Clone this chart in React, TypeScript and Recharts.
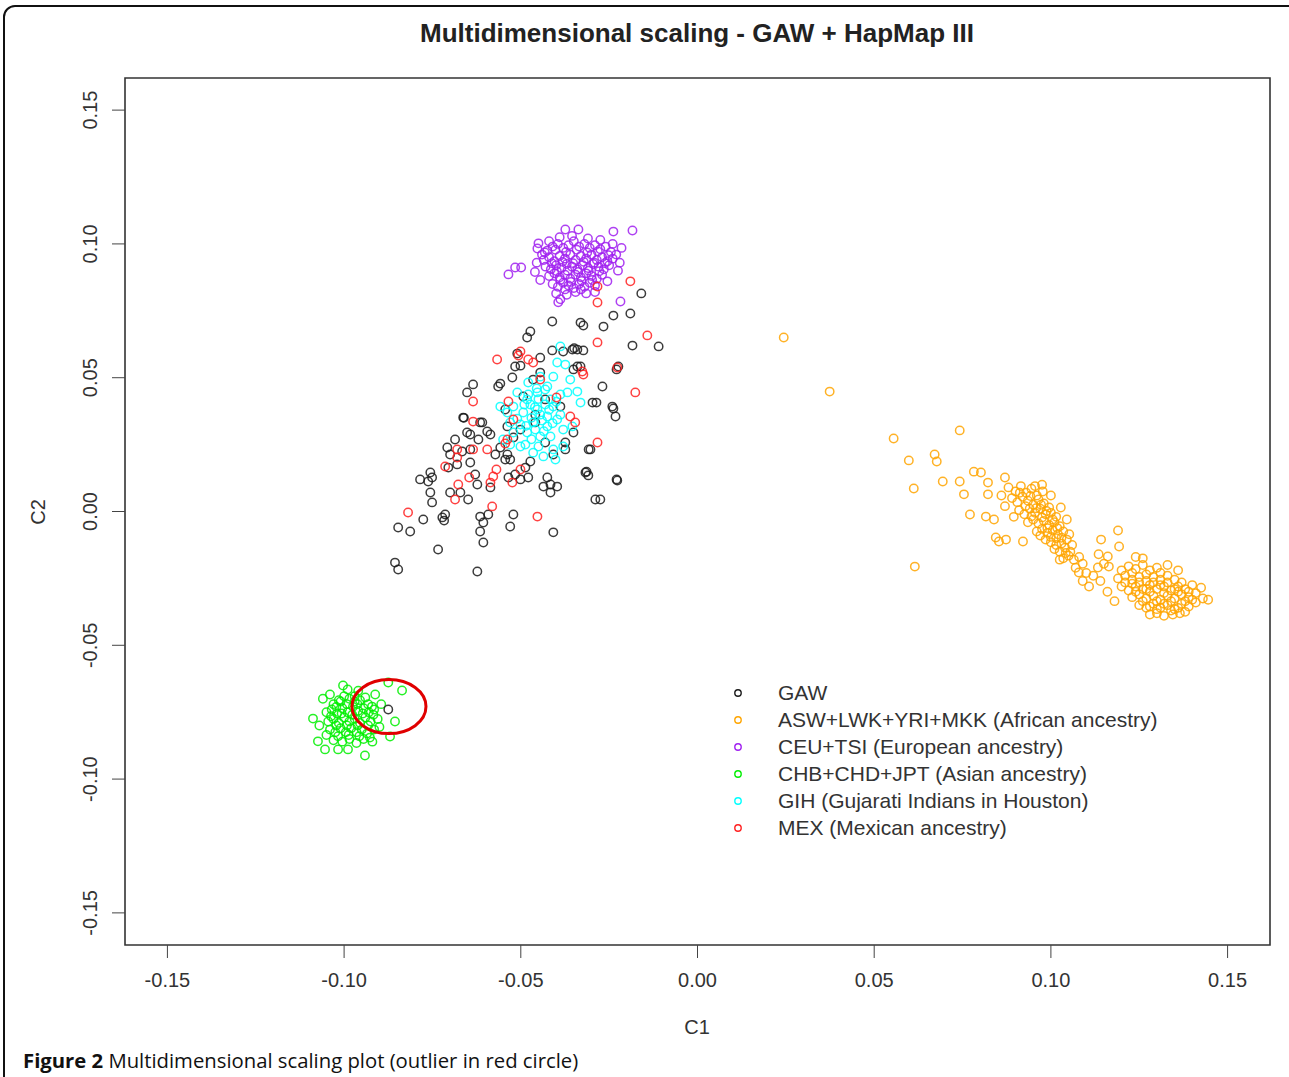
import React from 'react'
import {
  ScatterChart, Scatter, XAxis, YAxis, ReferenceArea, ReferenceDot, Legend, Label,
} from 'recharts'

// C1 / C2 coordinates
const gawPoints: [number, number][] = [
  [-0.0159, 0.0815], [-0.0190, 0.0740], [-0.0238, 0.0732], [-0.0266, 0.0691], [-0.0331, 0.0706],
  [-0.0323, 0.0695], [-0.0411, 0.0710], [-0.0473, 0.0673], [-0.0482, 0.0650], [-0.0184, 0.0620],
  [-0.0110, 0.0617], [-0.0229, 0.0531], [-0.0224, 0.0542], [-0.0269, 0.0467], [-0.0297, 0.0407],
  [-0.0241, 0.0392], [-0.0232, 0.0355], [-0.0351, 0.0531], [-0.0331, 0.0542], [-0.0340, 0.0605],
  [-0.0323, 0.0602], [-0.0354, 0.0605], [-0.0411, 0.0602], [-0.0445, 0.0575], [-0.0516, 0.0542],
  [-0.0564, 0.0467], [-0.0558, 0.0478], [-0.0493, 0.0430], [-0.0465, 0.0493], [-0.0374, 0.0258],
  [-0.0303, 0.0232], [-0.0351, 0.0295], [-0.0388, 0.0392], [-0.0445, 0.0519], [-0.0524, 0.0501],
  [-0.0380, 0.0598], [-0.0314, 0.0149], [-0.0309, 0.0135], [-0.0289, 0.0045], [-0.0227, 0.0116],
  [-0.0663, 0.0351], [-0.0652, 0.0295], [-0.0609, 0.0333], [-0.0595, 0.0299], [-0.0586, 0.0288],
  [-0.0708, 0.0239], [-0.0700, 0.0213], [-0.0666, 0.0224], [-0.0643, 0.0232], [-0.0705, 0.0164],
  [-0.0680, 0.0176], [-0.0643, 0.0183], [-0.0629, 0.0138], [-0.0756, 0.0146], [-0.0785, 0.0120],
  [-0.0762, 0.0112], [-0.0751, 0.0127], [-0.0756, 0.0071], [-0.0751, 0.0034], [-0.0700, 0.0071],
  [-0.0671, 0.0071], [-0.0649, 0.0045], [-0.0623, 0.0101], [-0.0586, 0.0090], [-0.0572, 0.0213],
  [-0.0538, 0.0213], [-0.0544, 0.0194], [-0.0535, 0.0127], [-0.0501, 0.0120], [-0.0479, 0.0127],
  [-0.0487, 0.0164], [-0.0425, 0.0127], [-0.0416, 0.0101], [-0.0436, 0.0093], [-0.0397, 0.0093],
  [-0.0416, 0.0071], [-0.0722, -0.0022], [-0.0714, -0.0011], [-0.0717, -0.0034], [-0.0776, -0.0030],
  [-0.0847, -0.0060], [-0.0813, -0.0075], [-0.0615, -0.0019], [-0.0592, -0.0011], [-0.0606, -0.0041],
  [-0.0615, -0.0075], [-0.0606, -0.0116], [-0.0521, -0.0011], [-0.0530, -0.0056], [-0.0408, -0.0078],
  [-0.0734, -0.0142], [-0.0856, -0.0191], [-0.0847, -0.0217], [-0.0623, -0.0224], [-0.0431, 0.0258],
  [-0.0408, 0.0213], [-0.0374, 0.0232], [-0.0459, 0.0333], [-0.0538, 0.0318], [-0.0521, 0.0277],
  [-0.0501, 0.0306], [-0.0459, 0.0362], [-0.0431, 0.0419], [-0.0544, 0.0381], [-0.0558, 0.0239],
  [-0.0530, 0.0194], [-0.0473, 0.0187], [-0.0516, 0.0138], [-0.0643, 0.0288], [-0.0620, 0.0269],
  [-0.0686, 0.0269], [-0.0635, 0.0475], [-0.0652, 0.0445], [-0.0510, 0.0590], [-0.0501, 0.0545],
  [-0.0340, 0.0542], [-0.0349, 0.0610], [-0.0661, 0.0350], [-0.0615, 0.0333], [-0.0286, 0.0407],
  [-0.0238, 0.0385], [-0.0308, 0.0232], [-0.0317, 0.0146], [-0.0229, 0.0120], [-0.0275, 0.0045],
  [-0.0875, -0.0740],
]

const africanPoints: [number, number][] = [
  [0.0244, 0.0650], [0.0374, 0.0448], [0.0555, 0.0273], [0.0742, 0.0303], [0.0598, 0.0191],
  [0.0671, 0.0213], [0.0677, 0.0187], [0.0612, 0.0086], [0.0694, 0.0112], [0.0742, 0.0112],
  [0.0754, 0.0064], [0.0771, -0.0011], [0.0615, -0.0206], [0.0782, 0.0149], [0.0802, 0.0146],
  [0.0822, 0.0108], [0.0870, 0.0127], [0.0816, -0.0019], [0.0839, -0.0030], [0.0844, -0.0097],
  [0.0853, -0.0112], [0.0873, -0.0105], [0.0921, -0.0112], [0.0977, 0.0075], [0.1028, 0.0015],
  [0.1190, -0.0071], [0.1193, -0.0131], [0.1161, -0.0168], [0.1108, -0.0280], [0.1079, -0.0228],
  [0.1142, -0.0105], [0.1133, -0.0209], [0.1164, -0.0206], [0.0822, 0.0064],
  [0.0880, 0.0090], [0.0900, 0.0075], [0.0915, 0.0095], [0.0930, 0.0070], [0.0945, 0.0085],
  [0.0960, 0.0060], [0.0890, 0.0050], [0.0905, 0.0035], [0.0920, 0.0055], [0.0935, 0.0040],
  [0.0950, 0.0025], [0.0965, 0.0045], [0.0980, 0.0030], [0.0995, 0.0015], [0.0910, 0.0005],
  [0.0925, -0.0010], [0.0940, 0.0010], [0.0955, -0.0005], [0.0970, 0.0010], [0.0985, -0.0010],
  [0.1000, -0.0005], [0.1015, -0.0020], [0.0935, -0.0040], [0.0950, -0.0030], [0.0965, -0.0045],
  [0.0980, -0.0035], [0.0995, -0.0050], [0.1010, -0.0040], [0.1025, -0.0055], [0.0960, -0.0075],
  [0.0975, -0.0065], [0.0990, -0.0080], [0.1005, -0.0070], [0.1020, -0.0085], [0.1035, -0.0075],
  [0.0985, -0.0105], [0.1000, -0.0115], [0.1015, -0.0100], [0.1030, -0.0120], [0.1045, -0.0105],
  [0.1010, -0.0140], [0.1025, -0.0150], [0.1040, -0.0135], [0.1055, -0.0150], [0.1035, -0.0175],
  [0.1050, -0.0165], [0.1065, -0.0180], [0.1080, -0.0170], [0.0870, 0.0020], [0.0860, 0.0060],
  [0.0895, -0.0020], [0.1070, -0.0210], [0.1090, -0.0195], [0.1100, -0.0230], [0.0975, 0.0100],
  [0.1000, 0.0060], [0.1045, -0.0030],
  [0.0912, 0.0070], [0.0942, 0.0058], [0.0972, 0.0025], [0.0928, 0.0020], [0.0958, 0.0012],
  [0.0988, 0.0002], [0.0945, -0.0018], [0.0975, -0.0022], [0.1005, -0.0030], [0.0990, -0.0062],
  [0.1018, -0.0062], [0.1000, -0.0095], [0.1030, -0.0098], [0.1015, -0.0125], [0.1042, -0.0155],
  [0.1060, -0.0125], [0.1052, -0.0085], [0.0970, -0.0090], [0.1025, -0.0180], [0.0955, 0.0095],
  [0.1200, -0.0220], [0.1220, -0.0205], [0.1240, -0.0215], [0.1260, -0.0200], [0.1280, -0.0220],
  [0.1300, -0.0210], [0.1190, -0.0250], [0.1210, -0.0240], [0.1230, -0.0255], [0.1250, -0.0245],
  [0.1270, -0.0260], [0.1290, -0.0245], [0.1310, -0.0255], [0.1330, -0.0240], [0.1350, -0.0255],
  [0.1200, -0.0280], [0.1220, -0.0295], [0.1240, -0.0280], [0.1260, -0.0290], [0.1280, -0.0275],
  [0.1300, -0.0290], [0.1320, -0.0280], [0.1340, -0.0295], [0.1360, -0.0280], [0.1380, -0.0290],
  [0.1400, -0.0275], [0.1230, -0.0320], [0.1250, -0.0310], [0.1270, -0.0325], [0.1290, -0.0315],
  [0.1310, -0.0330], [0.1330, -0.0315], [0.1350, -0.0325], [0.1370, -0.0310], [0.1390, -0.0320],
  [0.1410, -0.0305], [0.1430, -0.0325], [0.1250, -0.0350], [0.1270, -0.0360], [0.1290, -0.0345],
  [0.1310, -0.0360], [0.1330, -0.0350], [0.1350, -0.0365], [0.1370, -0.0345], [0.1390, -0.0355],
  [0.1410, -0.0340], [0.1280, -0.0385], [0.1300, -0.0380], [0.1320, -0.0390], [0.1345, -0.0385],
  [0.1365, -0.0380], [0.1180, -0.0335], [0.1160, -0.0300], [0.1445, -0.0330], [0.1425, -0.0285],
  [0.1360, -0.0220], [0.1330, -0.0200], [0.1260, -0.0175], [0.1240, -0.0170], [0.1120, -0.0240],
  [0.1140, -0.0260], [0.1090, -0.0260], [0.1150, -0.0195], [0.1135, -0.0160],
  [0.1210, -0.0265], [0.1230, -0.0270], [0.1250, -0.0265], [0.1270, -0.0290], [0.1290, -0.0265],
  [0.1310, -0.0275], [0.1330, -0.0265], [0.1350, -0.0290], [0.1370, -0.0265], [0.1390, -0.0300],
  [0.1240, -0.0300], [0.1260, -0.0335], [0.1280, -0.0300], [0.1300, -0.0335], [0.1320, -0.0305],
  [0.1340, -0.0335], [0.1360, -0.0300], [0.1380, -0.0335], [0.1400, -0.0330], [0.1280, -0.0355],
  [0.1300, -0.0365], [0.1320, -0.0345], [0.1340, -0.0370], [0.1360, -0.0360], [0.1380, -0.0375],
  [0.1230, -0.0230], [0.1270, -0.0235], [0.1310, -0.0230],
]

const europeanPoints: [number, number][] = [
  [-0.0535, 0.0886], [-0.0516, 0.0912], [-0.0499, 0.0912], [-0.0374, 0.1054], [-0.0337, 0.1054],
  [-0.0184, 0.1050], [-0.0238, 0.1046], [-0.0450, 0.1002], [-0.0453, 0.0983], [-0.0388, 0.0793],
  [-0.0394, 0.0782], [-0.0218, 0.0785],
  [-0.0440, 0.0960], [-0.0425, 0.0975], [-0.0410, 0.0990], [-0.0395, 0.1000], [-0.0380, 0.0985],
  [-0.0365, 0.0995], [-0.0350, 0.1010], [-0.0335, 0.0990], [-0.0320, 0.1000], [-0.0305, 0.0985],
  [-0.0290, 0.0995], [-0.0275, 0.0980], [-0.0260, 0.0990], [-0.0245, 0.0970], [-0.0230, 0.0960],
  [-0.0435, 0.0940], [-0.0420, 0.0950], [-0.0405, 0.0935], [-0.0390, 0.0955], [-0.0375, 0.0945],
  [-0.0360, 0.0960], [-0.0345, 0.0940], [-0.0330, 0.0955], [-0.0315, 0.0945], [-0.0300, 0.0960],
  [-0.0285, 0.0940], [-0.0270, 0.0950], [-0.0255, 0.0935], [-0.0240, 0.0945], [-0.0430, 0.0915],
  [-0.0415, 0.0905], [-0.0400, 0.0920], [-0.0385, 0.0910], [-0.0370, 0.0925], [-0.0355, 0.0915],
  [-0.0340, 0.0905], [-0.0325, 0.0920], [-0.0310, 0.0910], [-0.0295, 0.0925], [-0.0280, 0.0915],
  [-0.0265, 0.0905], [-0.0250, 0.0920], [-0.0420, 0.0880], [-0.0405, 0.0890], [-0.0390, 0.0875],
  [-0.0375, 0.0885], [-0.0360, 0.0870], [-0.0345, 0.0885], [-0.0330, 0.0875], [-0.0315, 0.0890],
  [-0.0300, 0.0880], [-0.0285, 0.0870], [-0.0270, 0.0885], [-0.0410, 0.0850], [-0.0395, 0.0840],
  [-0.0380, 0.0855], [-0.0365, 0.0845], [-0.0350, 0.0835], [-0.0335, 0.0850], [-0.0320, 0.0840],
  [-0.0305, 0.0855], [-0.0290, 0.0845], [-0.0400, 0.0815], [-0.0370, 0.0810], [-0.0345, 0.0820],
  [-0.0315, 0.0815], [-0.0290, 0.0820], [-0.0420, 0.1010], [-0.0390, 0.1025], [-0.0355, 0.1030],
  [-0.0310, 0.1020], [-0.0275, 0.1015], [-0.0240, 0.1000], [-0.0215, 0.0985], [-0.0455, 0.0930],
  [-0.0460, 0.0895], [-0.0220, 0.0930], [-0.0225, 0.0900], [-0.0445, 0.0865], [-0.0255, 0.0860],
  [-0.0432, 0.0968], [-0.0402, 0.0978], [-0.0372, 0.0970], [-0.0342, 0.0978], [-0.0312, 0.0968],
  [-0.0282, 0.0972], [-0.0252, 0.0958], [-0.0412, 0.0928], [-0.0382, 0.0933], [-0.0352, 0.0928],
  [-0.0322, 0.0933], [-0.0292, 0.0930], [-0.0262, 0.0928], [-0.0398, 0.0898], [-0.0368, 0.0900],
  [-0.0338, 0.0895], [-0.0308, 0.0900], [-0.0278, 0.0898], [-0.0388, 0.0865], [-0.0358, 0.0858],
  [-0.0328, 0.0862], [-0.0298, 0.0865], [-0.0375, 0.0830], [-0.0330, 0.0830],
]

const asianPoints: [number, number][] = [
  [-0.1003, -0.0650], [-0.1040, -0.0684], [-0.0836, -0.0669], [-0.0875, -0.0639], [-0.1088, -0.0774],
  [-0.1074, -0.0859], [-0.1054, -0.0889], [-0.1017, -0.0889], [-0.0989, -0.0889], [-0.0941, -0.0912],
  [-0.0870, -0.0841], [-0.0856, -0.0785], [-0.0912, -0.0684], [-0.0921, -0.0729],
  [-0.1030, -0.0720], [-0.1015, -0.0705], [-0.1000, -0.0690], [-0.0985, -0.0700], [-0.0970, -0.0690],
  [-0.0955, -0.0705], [-0.0940, -0.0695], [-0.1050, -0.0750], [-0.1035, -0.0740], [-0.1020, -0.0755],
  [-0.1005, -0.0735], [-0.0990, -0.0750], [-0.0975, -0.0730], [-0.0960, -0.0745], [-0.0945, -0.0735],
  [-0.0930, -0.0750], [-0.0915, -0.0740], [-0.1045, -0.0785], [-0.1030, -0.0775], [-0.1015, -0.0790],
  [-0.1000, -0.0770], [-0.0985, -0.0785], [-0.0970, -0.0775], [-0.0955, -0.0790], [-0.0940, -0.0770],
  [-0.0925, -0.0785], [-0.0905, -0.0775], [-0.1040, -0.0815], [-0.1025, -0.0825], [-0.1010, -0.0810],
  [-0.0995, -0.0825], [-0.0980, -0.0810], [-0.0965, -0.0825], [-0.0950, -0.0815], [-0.0935, -0.0830],
  [-0.0915, -0.0815], [-0.1030, -0.0855], [-0.1005, -0.0860], [-0.0985, -0.0850], [-0.0965, -0.0865],
  [-0.0945, -0.0850], [-0.0920, -0.0860], [-0.1060, -0.0700], [-0.1070, -0.0800], [-0.0895, -0.0720],
  [-0.0900, -0.0805], [-0.0990, -0.0665], [-0.0960, -0.0670],
  [-0.1022, -0.0730], [-0.0992, -0.0720], [-0.0962, -0.0720], [-0.0932, -0.0720], [-0.1037, -0.0765],
  [-0.1007, -0.0755], [-0.0977, -0.0760], [-0.0947, -0.0755], [-0.0917, -0.0760], [-0.1022, -0.0800],
  [-0.0992, -0.0800], [-0.0962, -0.0800], [-0.0932, -0.0800], [-0.1017, -0.0840], [-0.0987, -0.0835],
  [-0.0957, -0.0840], [-0.0927, -0.0845], [-0.1050, -0.0835], [-0.1010, -0.0710], [-0.0970, -0.0710],
]

const gujaratiPoints: [number, number][] = [
  [-0.0388, 0.0617], [-0.0397, 0.0557], [-0.0445, 0.0504], [-0.0425, 0.0467], [-0.0360, 0.0493],
  [-0.0340, 0.0448], [-0.0331, 0.0407], [-0.0368, 0.0445], [-0.0482, 0.0419], [-0.0521, 0.0392],
  [-0.0493, 0.0370], [-0.0453, 0.0381], [-0.0425, 0.0355], [-0.0465, 0.0333], [-0.0482, 0.0295],
  [-0.0445, 0.0280], [-0.0501, 0.0243], [-0.0465, 0.0220], [-0.0436, 0.0206], [-0.0408, 0.0232],
  [-0.0380, 0.0243], [-0.0521, 0.0295], [-0.0530, 0.0333], [-0.0538, 0.0370], [-0.0510, 0.0445],
  [-0.0408, 0.0392], [-0.0397, 0.0344], [-0.0425, 0.0318], [-0.0380, 0.0306], [-0.0354, 0.0318],
  [-0.0453, 0.0445], [-0.0416, 0.0419], [-0.0479, 0.0482], [-0.0408, 0.0504], [-0.0558, 0.0392],
  [-0.0550, 0.0269], [-0.0473, 0.0400], [-0.0445, 0.0362], [-0.0459, 0.0306], [-0.0501, 0.0325],
  [-0.0431, 0.0400], [-0.0388, 0.0437], [-0.0416, 0.0280], [-0.0487, 0.0250], [-0.0450, 0.0243],
  [-0.0388, 0.0362], [-0.0510, 0.0347], [-0.0479, 0.0437], [-0.0431, 0.0456], [-0.0530, 0.0250],
  [-0.0374, 0.0549], [-0.0402, 0.0194],
  [-0.0460, 0.0390], [-0.0440, 0.0340], [-0.0470, 0.0350], [-0.0420, 0.0380], [-0.0450, 0.0420],
  [-0.0490, 0.0400], [-0.0435, 0.0300], [-0.0470, 0.0270], [-0.0400, 0.0410], [-0.0410, 0.0330],
  [-0.0485, 0.0320], [-0.0455, 0.0460],
]

const mexicanPoints: [number, number][] = [
  [-0.0190, 0.0860], [-0.0283, 0.0841], [-0.0283, 0.0781], [-0.0142, 0.0658], [-0.0283, 0.0632],
  [-0.0567, 0.0568], [-0.0465, 0.0557], [-0.0227, 0.0538], [-0.0176, 0.0445], [-0.0635, 0.0411],
  [-0.0535, 0.0411], [-0.0323, 0.0512], [-0.0360, 0.0355], [-0.0346, 0.0333], [-0.0283, 0.0258],
  [-0.0521, 0.0344], [-0.0538, 0.0269], [-0.0680, 0.0232], [-0.0635, 0.0232], [-0.0595, 0.0232],
  [-0.0714, 0.0168], [-0.0680, 0.0202], [-0.0578, 0.0131], [-0.0524, 0.0108], [-0.0586, 0.0108],
  [-0.0677, 0.0101], [-0.0686, 0.0045], [-0.0819, -0.0004], [-0.0581, 0.0019], [-0.0453, -0.0019],
  [-0.0501, 0.0598], [-0.0326, 0.0523], [-0.0507, 0.0583], [-0.0479, 0.0568], [-0.0445, 0.0493],
  [-0.0399, 0.0426], [-0.0544, 0.0254], [-0.0501, 0.0157], [-0.0635, 0.0336], [-0.0569, 0.0157],
  [-0.0646, 0.0127],
]

const seriesNames = [
  'GAW',
  'ASW+LWK+YRI+MKK (African ancestry)',
  'CEU+TSI (European ancestry)',
  'CHB+CHD+JPT (Asian ancestry)',
  'GIH (Gujarati Indians in Houston)',
  'MEX (Mexican ancestry)',
]
const seriesColors = ['#1a1a1a', '#FFA500', '#A020F0', '#00EE00', '#00FFFF', '#FF2020']
const seriesPoints = [gawPoints, africanPoints, europeanPoints, asianPoints, gujaratiPoints, mexicanPoints]
// drawing order (back to front)
const drawOrder = [1, 2, 3, 0, 4, 5]

const axisTicks = [-0.15, -0.1, -0.05, 0, 0.05, 0.1, 0.15]
const outlier = { c1: -0.0873, c2: -0.0729 }

const toRows = (pts: [number, number][]) => pts.map(([c1, c2]) => ({ c1, c2 }))

const FONT = '"Liberation Sans", Arial, sans-serif'
const TEXT = '#333'

const ring = (color: string) => (props: any) => {
  if (props.cx == null || props.cy == null) return <g />
  return <circle cx={props.cx} cy={props.cy} r={4.2} fill="none" stroke={color} strokeWidth={1.5} strokeOpacity={0.85} />
}

const XTick = ({ x, y, payload }: any) => (
  <text x={x} y={y + 27} textAnchor="middle" fontSize={20} fill={TEXT} fontFamily={FONT}>
    {payload.value.toFixed(2)}
  </text>
)

const YTick = ({ y, payload }: any) => (
  <text x={97} y={y} transform={`rotate(-90 97 ${y})`} textAnchor="middle" fontSize={20} fill={TEXT} fontFamily={FONT}>
    {payload.value.toFixed(2)}
  </text>
)

const LegendBox = () => (
  <div style={{ fontFamily: FONT, fontSize: 21, color: TEXT }}>
    {seriesNames.map((name, i) => (
      <div key={name} style={{ display: 'flex', alignItems: 'center', height: 27 }}>
        <svg width={12} height={12}>
          <circle cx={6} cy={6} r={3.2} fill="none" stroke={seriesColors[i]} strokeWidth={1.4} />
        </svg>
        <span style={{ marginLeft: 34 }}>{name}</span>
      </div>
    ))}
  </div>
)

export default function App() {
  return (
    <div style={{ position: 'absolute', left: 0, top: 0, width: 1289, height: 1077, overflow: 'hidden', background: '#fff' }}>
      <div style={{ position: 'absolute', left: 3, top: 5, width: 1320, height: 1120, border: '2px solid #111', borderRadius: 12 }} />
      <div style={{ position: 'absolute', left: 0, width: 1394, top: 18, textAlign: 'center', fontFamily: FONT, fontWeight: 'bold', fontSize: 26, color: '#222' }}>
        Multidimensional scaling - GAW + HapMap III
      </div>
      <ScatterChart width={1289} height={1077} margin={{ top: 78, right: 19, bottom: 0, left: 0 }}>
        <XAxis
          type="number"
          dataKey="c1"
          domain={[-0.162, 0.162]}
          ticks={axisTicks}
          allowDataOverflow
          height={132}
          axisLine={false}
          tickLine={{ stroke: '#444' }}
          tickSize={13}
          tick={<XTick />}
        >
          <Label content={() => <text x={697} y={1034} textAnchor="middle" fontSize={20} fill={TEXT} fontFamily={FONT}>C1</text>} />
        </XAxis>
        <YAxis
          type="number"
          dataKey="c2"
          domain={[-0.162, 0.162]}
          ticks={axisTicks}
          allowDataOverflow
          width={125}
          axisLine={false}
          tickLine={{ stroke: '#444' }}
          tickSize={13}
          tick={<YTick />}
        >
          <Label content={() => <text x={45} y={512} transform="rotate(-90 45 512)" textAnchor="middle" fontSize={20} fill={TEXT} fontFamily={FONT}>C2</text>} />
        </YAxis>
        <ReferenceArea x1={-0.162} x2={0.162} y1={-0.162} y2={0.162} fill="none" stroke="#333" strokeWidth={1.6} fillOpacity={0} />
        {drawOrder.map((i) => (
          <Scatter
            key={seriesNames[i]}
            name={seriesNames[i]}
            data={toRows(seriesPoints[i])}
            fill={seriesColors[i]}
            shape={ring(seriesColors[i])}
            isAnimationActive={false}
          />
        ))}
        <ReferenceDot
          x={outlier.c1}
          y={outlier.c2}
          shape={(p: any) => <ellipse cx={p.cx} cy={p.cy} rx={37} ry={27} fill="none" stroke="#E00000" strokeWidth={3} />}
        />
        <Legend
          layout="vertical"
          align="center"
          verticalAlign="middle"
          content={<LegendBox />}
          wrapperStyle={{ position: 'absolute', left: 732, top: 679, width: 540 }}
        />
      </ScatterChart>
      <div style={{ position: 'absolute', left: 23, top: 1046, fontFamily: '"Open Sans", sans-serif', fontSize: 20.3, color: '#111', whiteSpace: 'nowrap' }}>
        <b>Figure 2</b> Multidimensional scaling plot (outlier in red circle)
      </div>
    </div>
  )
}
